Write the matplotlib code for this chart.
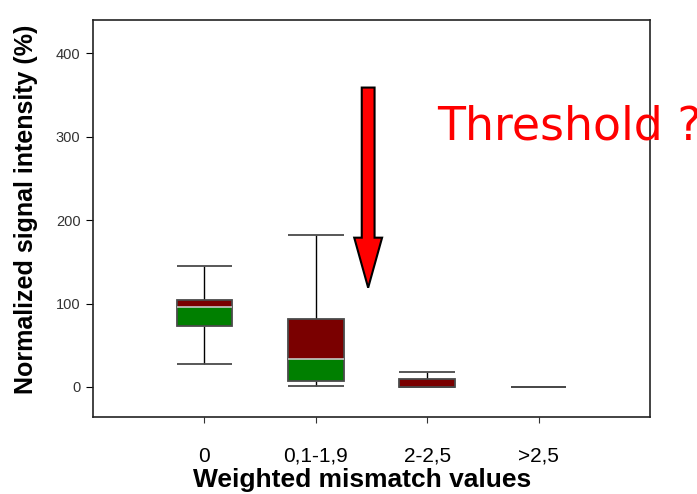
import matplotlib
matplotlib.use('Agg')
import matplotlib.pyplot as plt
from matplotlib.patches import FancyArrow
import numpy as np

# ---------- Data ----------
categories = ['0', '0,1-1,9', '2-2,5', '>2,5']
whisker_low = [28, 1, 0, 0]
q1 = [73, 7, 0, 0]
median = [96, 33, 0, 0]
q3 = [104, 81, 9, 0]
whisker_high = [145, 182, 18, 0]

dark_red = '#7a0000'
green = '#007f00'
edge = '#4a4a4a'

# ---------- Figure ----------
fig = plt.figure(figsize=(6.97, 4.94), dpi=100)
ax = fig.add_axes([0.1334, 0.1559, 0.7992, 0.8036])

x = np.arange(1, len(categories) + 1)
width = 0.5

# whiskers
ax.vlines(x, whisker_low, q1, color='black', lw=1, zorder=1)
ax.vlines(x, q3, whisker_high, color='black', lw=1, zorder=1)
ax.hlines(whisker_low, x - width / 2, x + width / 2, color=edge, lw=1.3, zorder=2)
ax.hlines(whisker_high, x - width / 2, x + width / 2, color=edge, lw=1.3, zorder=2)

# box halves
lower = np.array(median) - np.array(q1)
upper = np.array(q3) - np.array(median)
ax.bar(x, lower, width, bottom=q1, color=green, edgecolor='none', zorder=3)
ax.bar(x, upper, width, bottom=median, color=dark_red, edgecolor='none', zorder=3)
ax.bar(x, np.array(q3) - np.array(q1), width, bottom=q1, facecolor='none',
       edgecolor=edge, lw=1.3, zorder=4)
for xi, m, lo, hi in zip(x, median, q1, q3):
    if hi > m > lo:
        ax.hlines(m, xi - width / 2, xi + width / 2, color='#c8c8c8', lw=1.2, zorder=5)

ax.set_xlim(0, 5)
ax.set_ylim(-36, 440)
ax.set_xticks(x)
ax.set_xticklabels(categories, fontsize=15, family='Liberation Sans')
ax.set_yticks([0, 100, 200, 300, 400])
ax.tick_params(axis='y', labelsize=10.5, labelcolor='#333333', length=5, pad=4)
ax.tick_params(axis='x', length=4.5, pad=17, colors='#333333', labelcolor='black')
for lab in ax.get_yticklabels():
    lab.set_family('Liberation Sans')

ax.set_xlabel('Weighted mismatch values', fontsize=19, fontweight='bold',
              family='Liberation Sans')
ax.xaxis.set_label_coords(0.483, -0.128)
ax.set_ylabel('Normalized signal intensity (%)', fontsize=18, fontweight='bold',
              family='Liberation Sans')
ax.yaxis.set_label_coords(-0.099, 0.524)
for s in ax.spines.values():
    s.set_color('#222222')
    s.set_linewidth(1.2)
    s.set_zorder(10)

# annotation arrow and question
arrow = FancyArrow(2.47, 359, 0, -240, width=0.115, head_width=0.25,
                   head_length=60, length_includes_head=True,
                   facecolor='#ff0000', edgecolor='black', lw=1.5, zorder=6,
                   clip_on=False)
ax.add_patch(arrow)
fig.text(0.627, 0.742, 'Threshold ?', color='#ff0000', fontsize=33,
         family='DejaVu Sans', va='center', ha='left', zorder=1)

fig.savefig('out.png', dpi=100)
